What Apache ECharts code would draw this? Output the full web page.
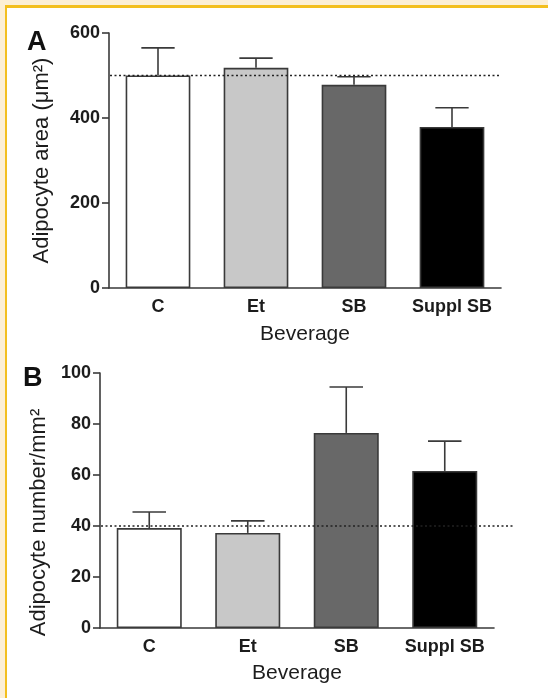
<!DOCTYPE html>
<html><head><meta charset="utf-8">
<script src="https://cdn.jsdelivr.net/npm/echarts@6/dist/echarts.min.js"></script>
<style>html,body{margin:0;padding:0;background:#fcefd5;}#c{position:absolute;left:0;top:0;width:548px;height:698px;}</style>
</head><body><div id="c"></div>
<script>
// ---- data ----
const categories = ['C', 'Et', 'SB', 'Suppl SB'];
const areaMean = [500, 518, 478, 379];
const areaErr = [65, 23, 19, 45];
const areaRef = [500];
const areaTicks = [0, 200, 400, 600];
const numberMean = [39.2, 37.3, 76.5, 61.6];
const numberErr = [6.3, 4.7, 18, 11.7];
const numberRef = [40];
const numberTicks = [0, 20, 40, 60, 80, 100];
const barColors = ['#ffffff', '#c8c8c8', '#686868', '#000000'];

// ---- styles ----
const FONT = '"Liberation Sans", Arial, sans-serif';
const AX = '#3a3a3a';
const TXT = '#1c1c1c';

function errRender(params, api) {
  const i = api.value(0), m = api.value(1), e = api.value(2);
  const base = api.coord([i, m]);
  const top = api.coord([i, m + e]);
  const half = api.size([1, 0])[0] * 0.17;
  const st = { stroke: AX, lineWidth: 1.6 };
  return { type: 'group', children: [
    { type: 'line', shape: { x1: base[0], y1: base[1], x2: top[0], y2: top[1] }, style: st },
    { type: 'line', shape: { x1: top[0] - half, y1: top[1], x2: top[0] + half, y2: top[1] }, style: st }
  ]};
}
function refRender(ext) {
  return function (params, api) {
    const cs = params.coordSys;
    const y = api.coord([0, api.value(1)])[1];
    return { type: 'line', shape: { x1: cs.x + 1, y1: y, x2: cs.x + cs.width + ext, y2: y },
      style: { stroke: '#222', lineWidth: 1.3, lineDash: [2, 2.5] } };
  };
}

function yAxis(gi, ticks, name, gap, shift) {
  return {
    type: 'value', gridIndex: gi, min: ticks[0], max: ticks[ticks.length - 1],
    interval: ticks[1] - ticks[0],
    name: name, nameLocation: 'middle', nameGap: gap,
    nameTextStyle: { fontFamily: FONT, fontSize: 22, color: TXT, padding: [0, shift, 0, 0] },
    axisLine: { show: true, lineStyle: { color: AX, width: 1.6 } },
    axisTick: { show: true, length: 7, lineStyle: { color: AX, width: 1.6 } },
    axisLabel: { fontFamily: FONT, fontSize: 18, fontWeight: 'bold', color: TXT, margin: 9 },
    splitLine: { show: false }
  };
}
function xAxis(gi, gap) {
  return {
    type: 'category', gridIndex: gi, data: categories,
    name: 'Beverage', nameLocation: 'middle', nameGap: gap,
    nameTextStyle: { fontFamily: FONT, fontSize: 21, color: TXT },
    axisLine: { show: true, lineStyle: { color: AX, width: 1.6 } },
    axisTick: { show: false },
    axisLabel: { interval: 0, fontFamily: FONT, fontSize: 18, fontWeight: 'bold', color: TXT, margin: 10 }
  };
}
function bars(gi, means) {
  return {
    type: 'bar', xAxisIndex: gi, yAxisIndex: gi, barWidth: '66%',
    data: means.map((v, i) => ({ value: v, itemStyle: { color: barColors[i] } })),
    itemStyle: { borderColor: AX, borderWidth: 1.6 }, silent: true, animation: false
  };
}
function errs(gi, means, e) {
  return { type: 'custom', xAxisIndex: gi, yAxisIndex: gi, renderItem: errRender,
    data: means.map((v, i) => [i, v, e[i]]), encode: { x: 0, y: 1 }, silent: true, animation: false, z: 3 };
}
function ref(gi, val, ext) {
  return { type: 'custom', xAxisIndex: gi, yAxisIndex: gi, renderItem: refRender(ext),
    data: val.map(v => [0, v]), encode: { x: 0, y: 1 }, silent: true, animation: false, z: 4 };
}

const chart = echarts.init(document.getElementById('c'), null, { renderer: 'canvas' });
chart.setOption({
  backgroundColor: '#fcefd5',
  animation: false,
  graphic: [
    { type: 'rect', shape: { x: 5, y: 5, width: 543, height: 693 }, style: { fill: '#f3bf1f' }, z: -10 },
    { type: 'rect', shape: { x: 7, y: 8, width: 541, height: 690 }, style: { fill: '#ffffff' }, z: -9 },
    { type: 'text', left: 27, top: 29, style: { text: 'A', fontFamily: FONT, fontSize: 27, fontWeight: 'bold', fill: '#111' } },
    { type: 'text', left: 23, top: 365, style: { text: 'B', fontFamily: FONT, fontSize: 27, fontWeight: 'bold', fill: '#111' } }
  ],
  grid: [
    { left: 109, top: 33, width: 392, height: 255 },
    { left: 100, top: 373, width: 394, height: 255 }
  ],
  xAxis: [xAxis(0, 36), xAxis(1, 35)],
  yAxis: [yAxis(0, areaTicks, 'Adipocyte area (μm²)', 56, 0), yAxis(1, numberTicks, 'Adipocyte number/mm²', 47, 44)],
  series: [
    bars(0, areaMean), errs(0, areaMean, areaErr), ref(0, areaRef, -1),
    bars(1, numberMean), errs(1, numberMean, numberErr), ref(1, numberRef, 19)
  ]
});
</script></body></html>
